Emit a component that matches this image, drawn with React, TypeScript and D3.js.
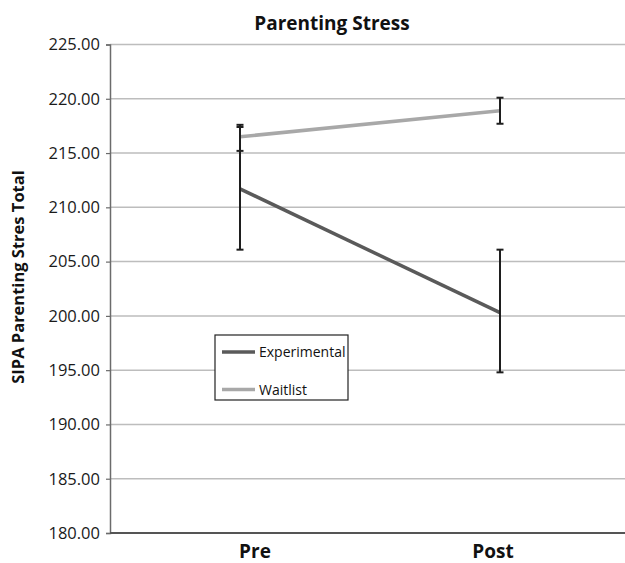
import React, { useEffect, useRef } from 'react';
import * as d3 from 'd3';

// data
const phases = ['Pre', 'Post'];
const seriesNames = ['Experimental', 'Waitlist'];
const experimentalMean = [211.7, 200.3];
const experimentalLow = [206.1, 194.8];
const experimentalHigh = [217.4, 206.1];
const waitlistMean = [216.5, 218.9];
const waitlistLow = [215.2, 217.7];
const waitlistHigh = [217.6, 220.1];
const yTicks = [180, 185, 190, 195, 200, 205, 210, 215, 220, 225];

export default function App() {
    const ref = useRef<SVGSVGElement>(null);

    useEffect(() => {
        const width = 625;
        const height = 563;
        const font = '"Open Sans", "Liberation Sans", sans-serif';

        const svg = d3.select(ref.current);
        svg.selectAll('*').remove();
        svg.attr('width', width).attr('height', height);

        // plot area runs past the right edge like in the original crop
        const left = 110;
        const right = 630;
        const top = 44.5;
        const bottom = 533;

        const x = d3.scalePoint<string>().domain(phases).range([left, right]).padding(0.5);
        const y = d3.scaleLinear().domain([180, 225]).range([bottom, top]);

        // gridlines
        svg.append('g')
            .selectAll('line')
            .data(yTicks.filter(d => d !== 180))
            .enter()
            .append('line')
            .attr('x1', left)
            .attr('x2', width)
            .attr('y1', d => y(d))
            .attr('y2', d => y(d))
            .attr('stroke', '#bdbdbd')
            .attr('stroke-width', 1.5);

        // y axis
        const yAxis = d3.axisLeft(y)
            .tickValues(yTicks)
            .tickSize(4)
            .tickPadding(6)
            .tickFormat(d => d3.format('.2f')(d as number));

        const ay = svg.append('g')
            .attr('transform', `translate(${left},0)`)
            .call(yAxis);
        ay.select('.domain').attr('stroke', '#6b6b6b').attr('stroke-width', 1.5);
        ay.selectAll('.tick line').attr('stroke', '#6b6b6b').attr('stroke-width', 1.2);
        ay.selectAll('.tick text')
            .attr('fill', '#1a1a1a')
            .attr('font-family', font)
            .attr('font-size', 16.5);

        // baseline
        svg.append('line')
            .attr('x1', left)
            .attr('x2', width)
            .attr('y1', y(180))
            .attr('y2', y(180))
            .attr('stroke', '#555')
            .attr('stroke-width', 2);

        // category labels (slightly off their points in the original)
        const labelShift = [15, -7];
        svg.append('g')
            .selectAll('text')
            .data(phases)
            .enter()
            .append('text')
            .attr('x', (d, i) => (x(d) as number) + labelShift[i])
            .attr('y', 558)
            .attr('text-anchor', 'middle')
            .attr('font-family', font)
            .attr('font-size', 19)
            .attr('font-weight', 'bold')
            .attr('fill', '#111')
            .text(d => d);

        const series = [
            { name: seriesNames[0], mean: experimentalMean, low: experimentalLow, high: experimentalHigh, color: '#5a5a5a' },
            { name: seriesNames[1], mean: waitlistMean, low: waitlistLow, high: waitlistHigh, color: '#a8a8a8' },
        ];

        const line = d3.line<number>()
            .x((d, i) => x(phases[i]) as number)
            .y(d => y(d));

        series.forEach(s => {
            svg.append('path')
                .datum(s.mean)
                .attr('d', line)
                .attr('fill', 'none')
                .attr('stroke', s.color)
                .attr('stroke-width', 3.5);
        });

        // error bars
        series.forEach(s => {
            const g = svg.append('g').attr('stroke', '#1e1e1e').attr('stroke-width', 2);
            phases.forEach((p, i) => {
                const cx = x(p) as number;
                g.append('line')
                    .attr('x1', cx).attr('x2', cx)
                    .attr('y1', y(s.low[i])).attr('y2', y(s.high[i]));
                [s.low[i], s.high[i]].forEach(v => {
                    g.append('line')
                        .attr('x1', cx - 3.5).attr('x2', cx + 3.5)
                        .attr('y1', y(v)).attr('y2', y(v));
                });
            });
        });

        // title
        svg.append('text')
            .attr('x', 332)
            .attr('y', 30)
            .attr('text-anchor', 'middle')
            .attr('font-family', font)
            .attr('font-size', 19)
            .attr('font-weight', 'bold')
            .attr('fill', '#111')
            .text('Parenting Stress');

        // y label
        svg.append('text')
            .attr('transform', `translate(24,277) rotate(-90)`)
            .attr('text-anchor', 'middle')
            .attr('font-family', font)
            .attr('font-size', 16.5)
            .attr('font-weight', 'bold')
            .attr('fill', '#111')
            .text('SIPA Parenting Stres Total');

        // legend
        const legend = svg.append('g').attr('transform', 'translate(215,335)');
        legend.append('rect')
            .attr('width', 133)
            .attr('height', 65)
            .attr('fill', '#fff')
            .attr('stroke', '#222')
            .attr('stroke-width', 1.2);
        series.forEach((s, i) => {
            const ly = 17 + i * 37.5;
            legend.append('line')
                .attr('x1', 7).attr('x2', 40)
                .attr('y1', ly).attr('y2', ly)
                .attr('stroke', s.color)
                .attr('stroke-width', 3.5);
            legend.append('text')
                .attr('x', 44)
                .attr('y', ly + 5)
                .attr('font-family', font)
                .attr('font-size', 14)
                .attr('fill', '#111')
                .text(s.name);
        });
    }, []);

    return (
        <div>
            <style>{'body{margin:0}'}</style>
            <svg ref={ref} style={{ display: 'block' }} />
        </div>
    );
}
